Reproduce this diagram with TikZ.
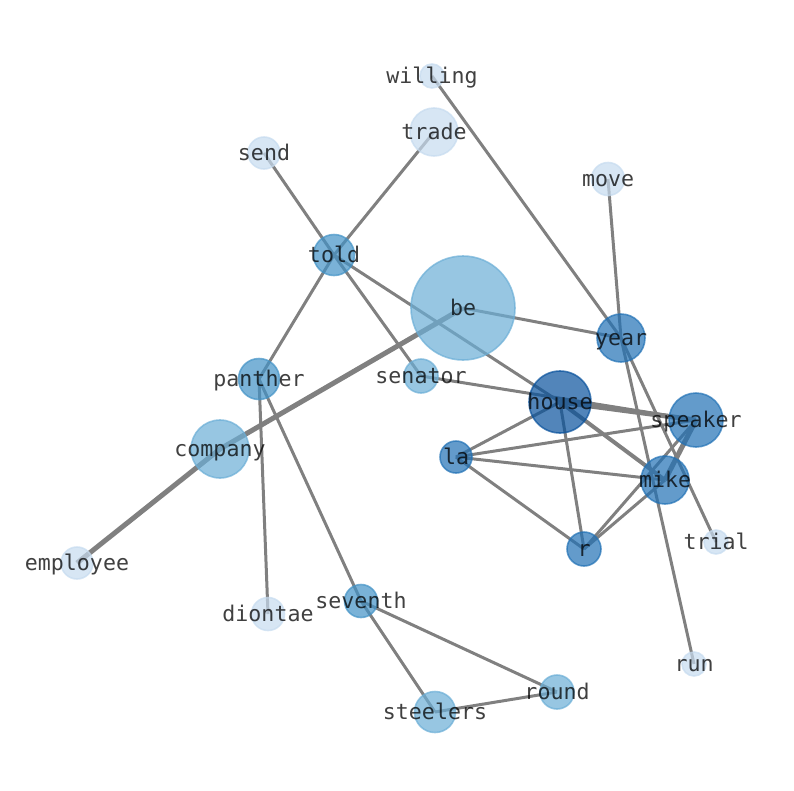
\documentclass[tikz,border=0pt]{standalone}
\usepackage{fontspec}
\newfontfamily\monofont{DejaVu Sans Mono}
\pgfdeclarelayer{bg}
\pgfsetlayers{bg,main}
\definecolor{cA}{RGB}{198,219,239}
\definecolor{cB}{RGB}{107,174,214}
\definecolor{cC}{RGB}{66,146,198}
\definecolor{cD}{RGB}{33,113,181}
\definecolor{cE}{RGB}{8,81,156}
\definecolor{edgegray}{RGB}{128,128,128}
\tikzset{
  vtx/.style 2 args={circle, inner sep=0pt, minimum size=#2, fill=#1, draw=#1, fill opacity=0.7, draw opacity=0.7, line width=1.6pt},
  lbl/.style={inner sep=0pt, text height=0.76em, text depth=0.23em, anchor=center, yshift=-5pt, text=black, text opacity=0.75, font=\monofont\fontsize{21.6}{26}\selectfont},
  thin/.style={draw=edgegray, line width=3pt},
  thick/.style={draw=edgegray, line width=5pt},
  mid/.style={draw=edgegray, line width=4pt}
}
\begin{document}
\begin{tikzpicture}[x=1pt,y=-1pt]
\useasboundingbox (0,0) rectangle (794,790);
% nodes (circles)
\node[vtx={cA}{24pt}] (willing) at (432,76) {};
\node[vtx={cA}{48pt}] (trade) at (434,132) {};
\node[vtx={cA}{32pt}] (send) at (264,153) {};
\node[vtx={cA}{33pt}] (move) at (608,179) {};
\node[vtx={cC}{41pt}] (told) at (334,255) {};
\node[vtx={cB}{104pt}] (be) at (463,308) {};
\node[vtx={cD}{48pt}] (year) at (621,338) {};
\node[vtx={cC}{41pt}] (panther) at (259,379) {};
\node[vtx={cB}{34pt}] (senator) at (421,376) {};
\node[vtx={cE}{62pt}] (house) at (560,402) {};
\node[vtx={cD}{54pt}] (speaker) at (696,420) {};
\node[vtx={cB}{58pt}] (company) at (220,449) {};
\node[vtx={cD}{32pt}] (la) at (456,457) {};
\node[vtx={cD}{48pt}] (mike) at (665,480) {};
\node[vtx={cA}{24pt}] (trial) at (716,542) {};
\node[vtx={cD}{34pt}] (r) at (584,549) {};
\node[vtx={cA}{32pt}] (employee) at (77,563) {};
\node[vtx={cA}{33pt}] (diontae) at (268,614) {};
\node[vtx={cC}{33pt}] (seventh) at (361,601) {};
\node[vtx={cA}{24pt}] (run) at (694,664) {};
\node[vtx={cB}{34pt}] (round) at (557,692) {};
\node[vtx={cB}{41pt}] (steelers) at (435,712) {};
% edges
\begin{pgfonlayer}{bg}
\draw[thin] (willing.center) -- (year.center);
\draw[thin] (trade.center) -- (told.center);
\draw[thin] (send.center) -- (told.center);
\draw[thin] (move.center) -- (year.center);
\draw[thin] (told.center) -- (panther.center);
\draw[thin] (told.center) -- (senator.center);
\draw[thin] (told.center) -- (house.center);
\draw[thin] (be.center) -- (year.center);
\draw[thick] (be.center) -- (company.center);
\draw[thick] (company.center) -- (employee.center);
\draw[thin] (year.center) -- (run.center);
\draw[thin] (year.center) -- (trial.center);
\draw[thin] (senator.center) -- (speaker.center);
\draw[thick] (house.center) -- (speaker.center);
\draw[mid] (house.center) -- (mike.center);
\draw[thin] (house.center) -- (la.center);
\draw[thin] (house.center) -- (r.center);
\draw[thin] (la.center) -- (speaker.center);
\draw[thin] (la.center) -- (mike.center);
\draw[thin] (la.center) -- (r.center);
\draw[thin] (r.center) -- (mike.center);
\draw[thin] (r.center) -- (speaker.center);
\draw[thick] (mike.center) -- (speaker.center);
\draw[thin] (panther.center) -- (diontae.center);
\draw[thin] (panther.center) -- (seventh.center);
\draw[thin] (seventh.center) -- (steelers.center);
\draw[thin] (seventh.center) -- (round.center);
\draw[thin] (steelers.center) -- (round.center);
\end{pgfonlayer}
% labels
\node[lbl] (l-willing) at (willing) {willing};
\node[lbl] (l-trade) at (trade) {trade};
\node[lbl] (l-send) at (send) {send};
\node[lbl] (l-move) at (move) {move};
\node[lbl] (l-told) at (told) {told};
\node[lbl] (l-be) at (be) {be};
\node[lbl] (l-year) at (year) {year};
\node[lbl] (l-panther) at (panther) {panther};
\node[lbl] (l-senator) at (senator) {senator};
\node[lbl] (l-house) at (house) {house};
\node[lbl] (l-speaker) at (speaker) {speaker};
\node[lbl] (l-company) at (company) {company};
\node[lbl] (l-la) at (la) {la};
\node[lbl] (l-mike) at (mike) {mike};
\node[lbl] (l-trial) at (trial) {trial};
\node[lbl] (l-r) at (r) {r};
\node[lbl] (l-employee) at (employee) {employee};
\node[lbl] (l-diontae) at (diontae) {diontae};
\node[lbl] (l-seventh) at (seventh) {seventh};
\node[lbl] (l-run) at (run) {run};
\node[lbl] (l-round) at (round) {round};
\node[lbl] (l-steelers) at (steelers) {steelers};
\end{tikzpicture}
\end{document}
